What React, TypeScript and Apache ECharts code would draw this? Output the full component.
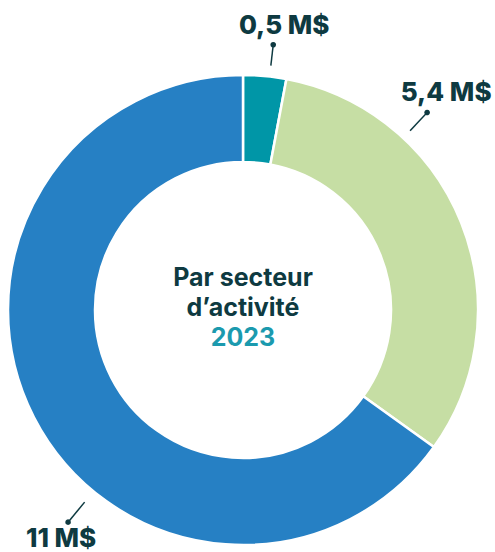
import React, { useEffect, useRef } from "react";
import * as echarts from "echarts";

const categories = ["Secteur A", "Secteur B", "Secteur C"];
const values = [0.5, 5.4, 11];
const colors = ["#0096A7", "#C6DEA4", "#2680C4"];
const labelAngles = [6.5, 43, 219.5];
const labelRadii = [[246, 267], [245, 270], [249, 275]];
const labelOffsets = [[11, -20], [19, -21], [-7, 15]];

const CX = 243;
const CY = 310;
const R_OUT = 235;
const R_IN = 148;
const DARK = "#0E3A41";

function polar(angleDeg: number, r: number): [number, number] {
  const a = (angleDeg * Math.PI) / 180;
  return [CX + r * Math.sin(a), CY - r * Math.cos(a)];
}

export default function App() {
  const ref = useRef<HTMLDivElement>(null);
  useEffect(() => {
    if (!ref.current) return;
    const chart = echarts.init(ref.current, null, { renderer: "svg" });
    const graphics: any[] = [];
    labelAngles.forEach((ang, i) => {
      const p1 = polar(ang, labelRadii[i][0]);
      const p2 = polar(ang, labelRadii[i][1]);
      graphics.push({
        type: "line",
        shape: { x1: p1[0], y1: p1[1], x2: p2[0], y2: p2[1] },
        style: { stroke: DARK, lineWidth: 1.5 },
      });
      graphics.push({
        type: "circle",
        shape: { cx: p2[0], cy: p2[1], r: 2.8 },
        style: { fill: DARK },
      });
    });
    graphics.push({
      type: "text",
      x: CX,
      y: CY - 3,
      style: {
        text: "{a|Par secteur}\n{a|d’activité}\n{b|2023}",
        align: "center",
        verticalAlign: "middle",
        rich: {
          a: { fontFamily: "Inter", fontWeight: 700, fontSize: 25, lineHeight: 30, fill: DARK, align: "center" },
          b: { fontFamily: "Inter", fontWeight: 700, fontSize: 25, lineHeight: 30, fill: "#1B9AAE", align: "center" },
        },
      },
    });
    chart.setOption({
      animation: false,
      graphic: graphics,
      series: [
        {
          type: "pie",
          center: [CX, CY],
          radius: [R_IN, R_OUT],
          startAngle: 90,
          clockwise: true,
          avoidLabelOverlap: false,
          itemStyle: { borderColor: "#ffffff", borderWidth: 2.5 },
          label: {
            show: true,
            position: "inside",
            overflow: "none",
            formatter: (p: any) => String(p.value).replace(".", ",") + " M$",
            fontFamily: "Inter",
            fontWeight: 800,
            fontSize: 26,
            lineHeight: 22,
            color: DARK,
          },
          labelLine: { show: false },
          labelLayout: (params: any) => {
            const i = params.dataIndex;
            const p2 = polar(labelAngles[i], labelRadii[i][1]);
            return {
              x: p2[0] + labelOffsets[i][0],
              y: p2[1] + labelOffsets[i][1],
              align: "center",
              verticalAlign: "middle",
              hideOverlap: false,
            };
          },
          emphasis: { disabled: true },
          data: categories.map((c, i) => ({
            name: c,
            value: values[i],
            itemStyle: { color: colors[i] },
          })),
        },
      ],
    });
    return () => chart.dispose();
  }, []);
  return (
    <div
      ref={ref}
      style={{ position: "fixed", left: 0, top: 0, width: 495, height: 552, background: "#fff" }}
    />
  );
}
